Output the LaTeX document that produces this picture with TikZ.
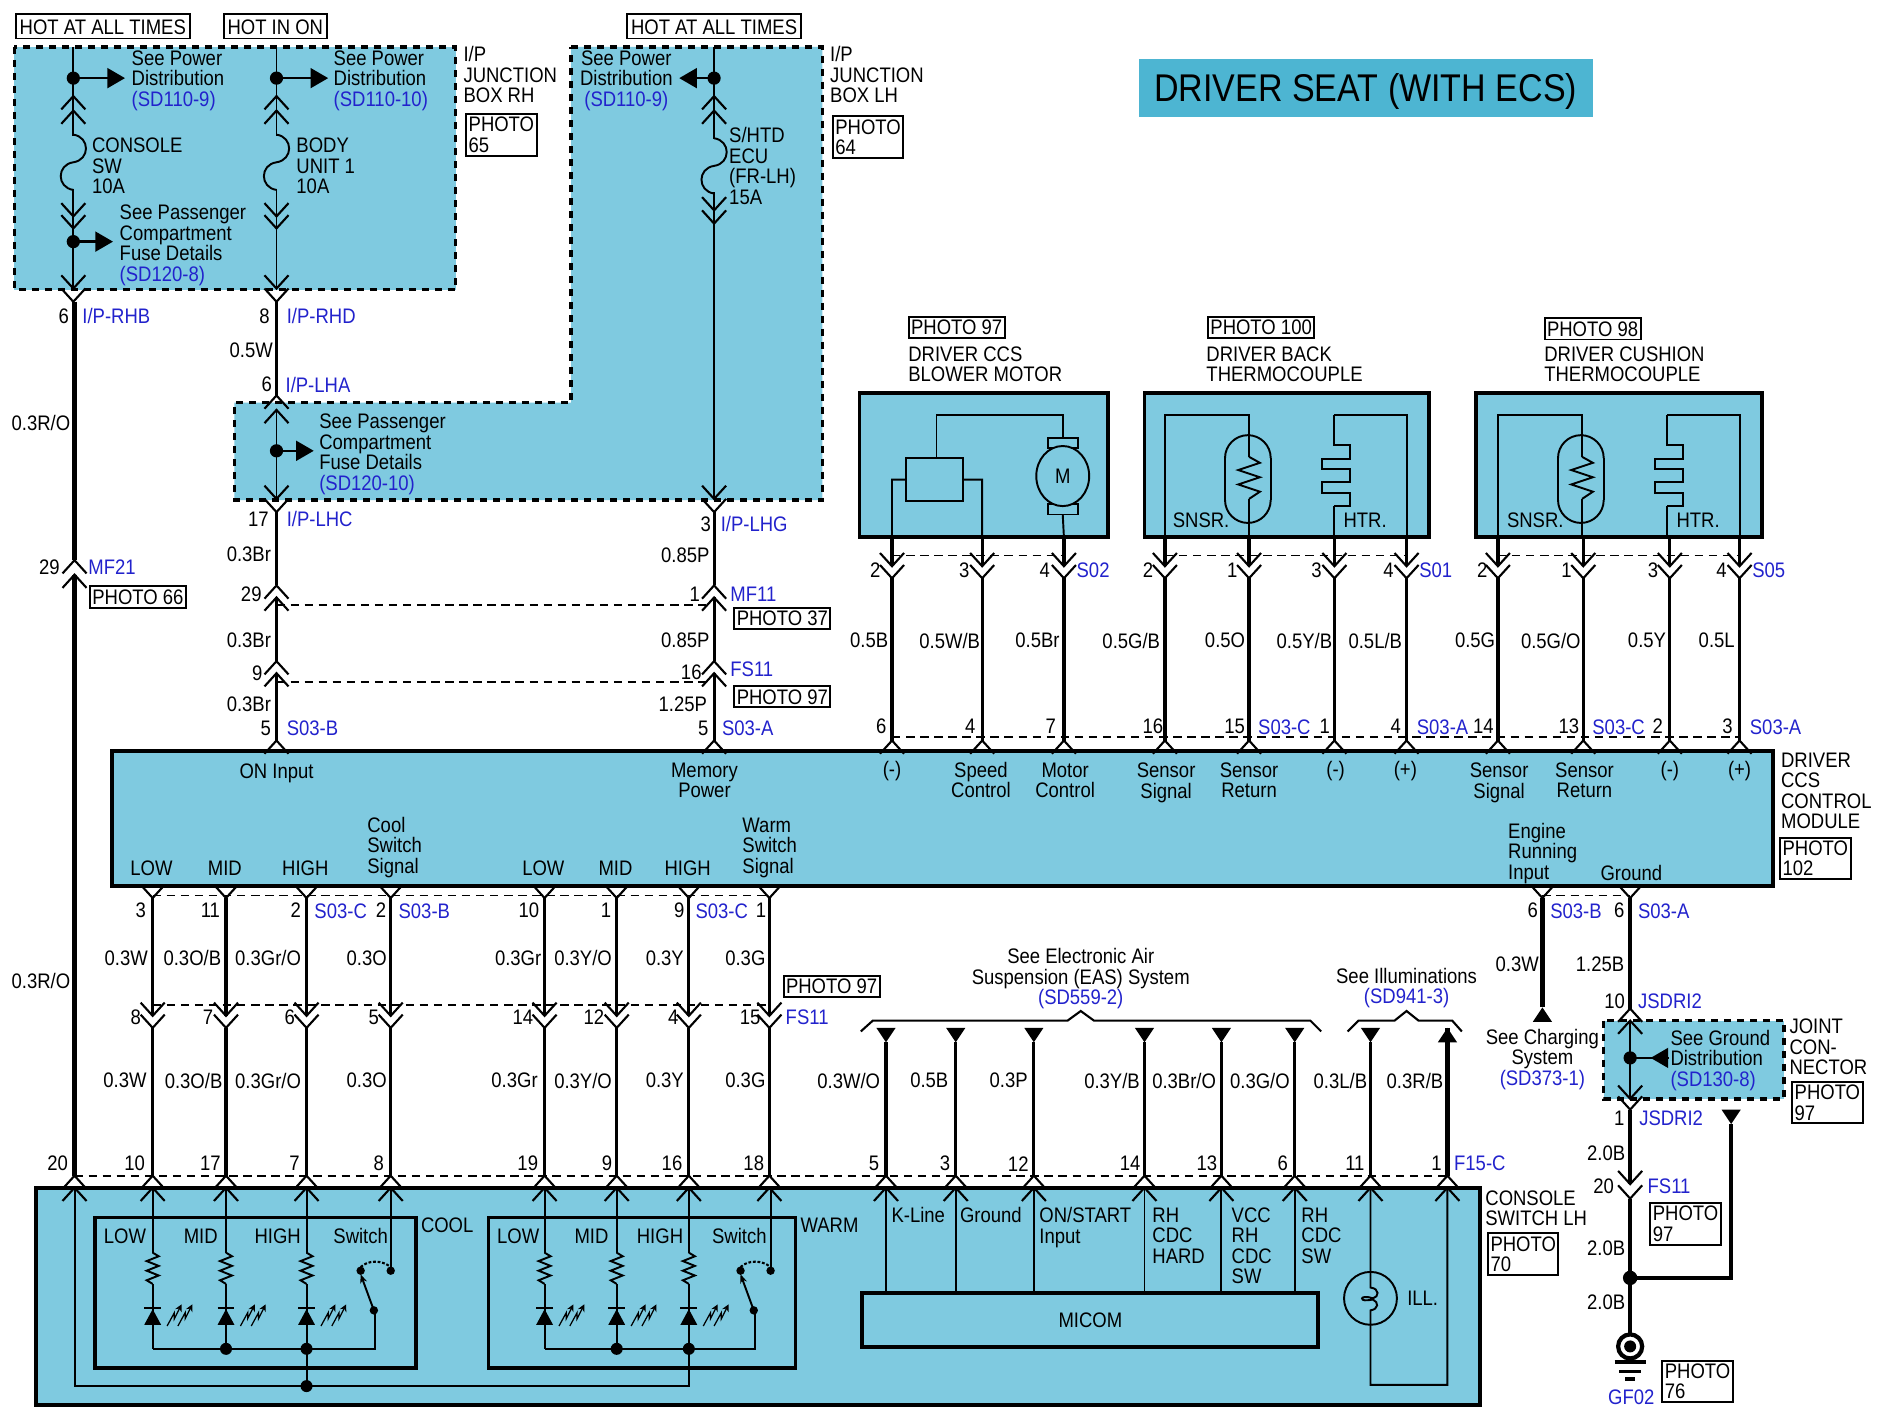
\documentclass[tikz,border=0pt]{standalone}
\usepackage{fontspec}
\setmainfont{Liberation Sans}[FakeStretch=0.88]
\usetikzlibrary{arrows.meta}
\definecolor{boxfill}{HTML}{7FCAE0}
\definecolor{titlefill}{HTML}{4DB5D2}
\definecolor{refblue}{HTML}{2222CC}
\tikzset{
  every node/.style={font=\fontsize{5.98}{5.83}\selectfont,inner sep=0pt},
  lftxt/.style={anchor=west,align=left},
  ctxt/.style={align=center},
  reflbl/.style={anchor=west,text=refblue},
  photobox/.style={draw,line width=.55pt,align=left,anchor=north west,inner xsep=.7pt,inner ysep=.9pt},
  chev/.style={line width=.6pt},
  wire/.style={line width=.9pt},
  fatwire/.style={line width=1.2pt},
  inwire/.style={line width=.55pt},
  module/.style={draw,line width=1.1pt,fill=boxfill},
  jbox/.style={draw,line width=1pt,fill=boxfill,dash pattern=on 2pt off 1.7pt},
  shortdash/.style={line width=.5pt,dash pattern=on 2.4pt off 1.6pt},
  feed/.style={line width=.7pt,-{Triangle[length=5pt,width=5.6pt]}},
  veedn/.pic={\draw[chev] (-10,-11)--(0,0)--(10,-11);},
  capup/.pic={\draw[chev] (-10,11)--(0,0)--(10,11);},
  tridn/.pic={\fill (-8,-12)--(8,-12)--(0,0)--cycle;},
  triup/.pic={\fill (-8,12)--(8,12)--(0,0)--cycle;},
  fuse/.pic={\draw[inwire] (0,-23) .. controls (14,-21) and (14,-2) .. (0,0) .. controls (-14,2) and (-14,21) .. (0,23);},
  resist/.pic={\draw[inwire] (0,-13)--(5,-10)--(-5,-6)--(5,-2)--(-5,2)--(5,6)--(-5,10)--(0,13);},
  led/.pic={
    \draw[line width=.8pt] (-7,-7)--(7,-7);
    \fill (0,-6)--(-7,7)--(7,7)--cycle;
    \draw[line width=.35pt,-{Stealth[length=2pt,width=2pt]}] (12,8)--(18,-3)--(18,2)--(24,-10);
    \draw[line width=.35pt,-{Stealth[length=2pt,width=2pt]}] (21,8)--(27,-3)--(27,2)--(33,-10);
  },
  swt/.pic={
    \fill (0,0) circle[radius=3.5];
    \fill (25,0) circle[radius=3.5];
    \fill (11,33) circle[radius=3.5];
    \draw[line width=.6pt,dash pattern=on .8pt off .5pt] (0,-3) .. controls (6,-9) and (18,-9) .. (25,-3);
    \draw[inwire,-{Stealth[length=2.5pt,width=2pt]}] (11,33)--(0,3);
  },
  htr/.pic={
    \draw[inwire] (0,0)--(0,25)--(13,25)--(13,37)--(-10,37)--(-10,45)--(13,45)--(13,56)--(-10,56)--(-10,65)--(13,65)--(13,76)--(0,76);
  },
}
\begin{document}
\begin{tikzpicture}[line cap=butt,line join=miter,>=stealth,x=0.012022cm,y=-0.012017cm]
\useasboundingbox (0,0) rectangle (1568,1170);

\node[draw=none,fill=titlefill,minimum width=4.54cm,minimum height=.58cm,text height=7.9pt,text depth=0pt,font=\fontsize{11}{13}\selectfont] (title) at (1136,73) {DRIVER SEAT (WITH ECS)};

\draw[jbox] (12,39) rectangle (379,241);
\draw[jbox] (475,39)--(684,39)--(684,416)--(195,416)--(195,335)--(475,335)--cycle;
\draw[jbox] (1334,849) rectangle (1484,914);
\draw[module] (93,625) rectangle (1475,737);
\draw[module] (30,988) rectangle (1231,1168.5);
\foreach \n/\xa/\xb in {bm/715/922,bk/952/1189,cu/1228/1466}
  \draw[module] (\xa,327) coordinate (\n a) rectangle (\xb,447) coordinate (\n b);

% supply side
\foreach \n/\x/\yb in {rhb/61/240,rhd/230/240}{
  \coordinate (\n top) at (\x,39);
  \coordinate (\n dot) at (\x,65);
  \coordinate (\n end) at (\x,\yb);
  \draw[inwire] (\n top)--(\n end);
  \fill (\n dot) circle[radius=5.5];
  \draw[feed] (\n dot)--++(43,0);
  \foreach \y in {80,92} \pic at (\x,\y) {capup};
  \foreach \y in {180,190,240,251} \pic at (\x,\y) {veedn};
  \fill[boxfill] (\x-2,113) rectangle (\x+2,157);
  \pic at (\x,135) {fuse};
}
\coordinate (rhbdot2) at (61,201);
\fill (rhbdot2) circle[radius=5.5];
\draw[feed] (rhbdot2)--++(33,0);

\coordinate (lhgtop) at (594,39);
\coordinate (lhgdot) at (594,65);
\coordinate (lhgend) at (594,415);
\draw[inwire] (lhgtop)--(lhgend);
\fill (lhgdot) circle[radius=5.5];
\draw[feed] (lhgdot)--++(-29,0);
\foreach \y in {80,92} \pic at (594,\y) {capup};
\foreach \y in {175,186,415,426} \pic at (594,\y) {veedn};
\fill[boxfill] (592,116) rectangle (596,160);
\pic at (594,138) {fuse};

\coordinate (lhaup) at (230,328);
\coordinate (lhalo) at (230,415);
\coordinate (lhadot) at (230,375);
\draw[inwire] (230,341)--(lhalo);
\fill (lhadot) circle[radius=5.5];
\draw[feed] (lhadot)--++(31,0);
\pic at (230,329) {capup};
\pic at (230,341) {capup};
\foreach \y in {415,426} \pic at (230,\y) {veedn};

\coordinate (rhbb) at (62,251);
\coordinate (rhbc) at (62,466);
\coordinate (rhbd) at (62,478);
\coordinate (rhbe) at (62,978);
\draw[fatwire] (rhbb)--(rhbc) (rhbd)--(rhbe);
\pic at (rhbc) {capup};
\pic at (rhbd) {capup};
\coordinate (rhda) at (230,251);
\coordinate (rhdb) at (230,329);
\draw[wire] (rhda)--(rhdb);
\foreach \x in {230,594}{
  \coordinate (w\x a) at (\x,426);
  \coordinate (w\x b) at (\x,487);
  \coordinate (w\x c) at (\x,497);
  \coordinate (w\x d) at (\x,550);
  \coordinate (w\x e) at (\x,560);
  \coordinate (w\x f) at (\x,616);
  \draw[wire] (w\x a)--(w\x b) (w\x c)--(w\x d) (w\x e)--(w\x f);
  \foreach \p in {b,c,d,e,f} \pic at (w\x\p) {capup};
}
\draw[shortdash] (w230c)++(0,6)--(587,503);
\draw[shortdash] (w230e)++(0,7)--(587,567);

% sensors above the module
\foreach \x in {742,817,885,969,1039,1110,1170,1246,1317,1389,1447}{
  \coordinate (c\x a) at (\x,447);
  \coordinate (c\x b) at (\x,471);
  \coordinate (c\x c) at (\x,481);
  \coordinate (c\x d) at (\x,616);
  \draw[wire] (c\x a)--(c\x b) (c\x c)--(c\x d);
  \pic at (c\x b) {veedn};
  \pic at (c\x c) {veedn};
  \pic at (c\x d) {capup};
}
\foreach \xa/\xb in {742/885,969/1170,1246/1447} \draw[shortdash] (\xa,462)--(\xb,462);
\draw[shortdash] (742,613)--(1447,613);

\draw[inwire] (754,381) rectangle (801,417);
\draw[inwire] (779,381)--(779,345)--(884,345)--(884,364);
\draw[inwire] (872,364) rectangle (897,373);
\draw[inwire] (872,419) rectangle (897,428);
\draw[inwire,fill=boxfill] (884,396) ellipse[x radius=22,y radius=25];
\node (motorm) at (884,396) {M};
\draw[inwire] (c742a)--(742,399)--(754,399) (801,399)--(817,399)--(c817a) (884,428)--(c885a);

\foreach \dx/\xr/\n in {0/1170/bk,277/1447/cu}{
  \begin{scope}[shift={(\dx,0)}]
    \draw[inwire] (969,447)--(969,345)--(1039,345)--(1039,380);
    \draw[inwire] (1039,415)--(1039,447);
    \draw[inwire] (1019,381) arc[start angle=180,end angle=360,radius=19];
    \draw[inwire] (1019,381)--(1019,416) (1057,381)--(1057,416);
    \draw[inwire] (1019,416) arc[start angle=180,end angle=0,radius=19];
    \draw[inwire] (1039,380)--(1048,385)--(1030,391)--(1048,397)--(1030,403)--(1048,409)--(1039,415);
    \pic at (1110,345) {htr};
    \draw[inwire] (1110,421)--(1110,447);
    \draw[inwire] (1110,345)--(1170,345)--(1170,447);
  \end{scope}
}
\node[lftxt] (snsra) at (975,433) {SNSR.};
\node[lftxt] (htra) at (1117,433) {HTR.};
\node[lftxt] (snsrb) at (1253,433) {SNSR.};
\node[lftxt] (htrb) at (1394,433) {HTR.};

\node[photobox] (ph97a) at (755,263) {PHOTO 97};
\node[photobox] (ph100) at (1004,263) {PHOTO 100};
\node[photobox] (ph98) at (1284,264) {PHOTO 98};
\node[lftxt] (blower) at (755,303) {DRIVER CCS\\BLOWER MOTOR};
\node[lftxt] (back) at (1003,303) {DRIVER BACK\\THERMOCOUPLE};
\node[lftxt] (cushion) at (1284,303) {DRIVER CUSHION\\THERMOCOUPLE};

% module to console switch
\foreach \x in {127,188,255,325,453,513,573,640}{
  \coordinate (m\x a) at (\x,747);
  \coordinate (m\x b) at (\x,845);
  \coordinate (m\x c) at (\x,855);
  \coordinate (m\x d) at (\x,978);
  \coordinate (m\x e) at (\x,988);
  \draw[wire] (m\x a)--(m\x b) (m\x c)--(m\x d);
  \pic at (m\x a) {veedn};
  \pic at (m\x b) {veedn};
  \pic at (m\x c) {veedn};
  \pic at (m\x d) {capup};
  \pic at (m\x e) {capup};
}
\draw[shortdash] (127,745)--(640,745);
\draw[shortdash] (127,836)--(640,836);
\draw[shortdash] (62,978)--(1204,978);
\pic at (62,978) {capup};
\pic at (62,988) {capup};

\foreach \x in {737,795,860,952,1016,1077,1140}{
  \coordinate (e\x a) at (\x,867);
  \coordinate (e\x b) at (\x,978);
  \coordinate (e\x c) at (\x,988);
  \draw[wire] (e\x a)--(e\x b);
  \pic at (e\x a) {tridn};
  \pic at (e\x b) {capup};
  \pic at (e\x c) {capup};
}
\coordinate (e1204a) at (1204,855);
\coordinate (e1204b) at (1204,978);
\coordinate (e1204c) at (1204,988);
\draw[fatwire] (e1204a)--(e1204b);
\pic at (e1204a) {triup};
\pic at (e1204b) {capup};
\pic at (e1204c) {capup};
\draw[line width=.6pt] (716,858)--(726,849)--(888,849)--(899,841)--(910,849)--(1090,849)--(1099,858);
\draw[line width=.6pt] (1121,858)--(1130,849)--(1160,849)--(1170,841)--(1180,849)--(1208,849)--(1216,858);

% console switch internals
\draw[line width=.9pt] (79,1013) rectangle (346,1138);
\draw[line width=.9pt] (406,1013) rectangle (662,1138);
\foreach \x in {127,188,255,453,513,573}{
  \draw[inwire] (\x,988)--(\x,1042);
  \pic at (\x,1055) {resist};
  \draw[inwire] (\x,1068)--(\x,1122);
  \pic at (\x,1095) {led};
}
\coordinate (coola) at (127,1122);
\coordinate (coolb) at (312,1122);
\coordinate (warma) at (453,1122);
\coordinate (warmb) at (628,1122);
\draw[inwire] (coola)--(coolb)--(312,1090);
\draw[inwire] (warma)--(warmb)--(628,1090);
\draw[inwire] (325,988)--(325,1057);
\draw[inwire] (641,988)--(641,1057);
\pic at (300,1057) {swt};
\pic at (616,1057) {swt};
\foreach \x in {188,255,513,573} \fill (\x,1122) circle[radius=5];
\coordinate (coma) at (62,1153);
\coordinate (comb) at (573,1153);
\draw[inwire] (62,988)--(coma)--(comb)--(573,1122);
\draw[inwire] (255,1122)--(255,1153);
\fill (255,1153) circle[radius=5];

\node[draw,line width=1.1pt,minimum width=4.56cm,minimum height=.54cm] (micom) at (907,1098) {MICOM};
\foreach \x in {737,795,860,952,1016,1077} \draw[inwire] (\x,988)--(\x,1075);
\draw[inwire] (1140,1080) circle[radius=22];
\draw[inwire] (1140,988)--(1140,1071) .. controls (1148,1072) and (1147,1079) .. (1142,1080) .. controls (1136,1078) and (1133,1079) .. (1133,1080) .. controls (1133,1082) and (1136,1082) .. (1142,1081) .. controls (1147,1083) and (1147,1089) .. (1140,1090)--(1140,1152)--(1204,1152)--(1204,988);
\node[lftxt] (ill) at (1170,1080) {ILL.};

% right hand side
\foreach \x/\ye in {1283/838,1356/839}{
  \coordinate (r\x a) at (\x,747);
  \coordinate (r\x b) at (\x,\ye);
  \draw[fatwire] (r\x a)--(r\x b);
  \pic at (r\x a) {veedn};
}
\pic at (1283,838) {triup};
\pic at (1356,839) {capup};
\pic at (1356,849) {capup};
\draw[shortdash] (1283,745)--(1356,745);
\coordinate (jsa) at (1356,849);
\coordinate (jsb) at (1356,914);
\coordinate (jsdot) at (1356,880);
\draw[inwire] (jsa)--(jsb);
\fill (jsdot) circle[radius=5.5];
\coordinate (jsfeed) at (1388,880);
\draw[inwire] (jsdot)--(jsfeed);
\draw[feed] (jsfeed)--(1373,880);
\pic at (1356,914) {veedn};
\pic at (1356,923) {veedn};
\coordinate (gda) at (1356,923);
\coordinate (gdb) at (1356,985);
\coordinate (gdc) at (1356,997);
\coordinate (gdd) at (1356,1063);
\coordinate (gde) at (1356,1110);
\draw[fatwire] (gda)--(gdb) (gdc)--(gdd)--(gde);
\pic at (gdb) {veedn};
\pic at (gdc) {veedn};
\fill (gdd) circle[radius=6];
\coordinate (gdf) at (1440,935);
\draw[fatwire] (gdd)--(1440,1063)--(gdf);
\pic at (gdf) {tridn};
\draw[line width=1.2pt] (1356,1120) circle[radius=10];
\fill (1356,1120) circle[radius=5];
\draw[line width=1pt] (1343,1133)--(1369,1133);
\draw[line width=1pt] (1347,1141)--(1365,1141);
\draw[line width=1pt] (1352,1147)--(1360,1147);

% labels
\foreach \n/\xa/\xb/\t in {hota/11/160/HOT AT ALL TIMES,hotb/185/273/HOT IN ON,hotc/520/668/HOT AT ALL TIMES}
  \node[draw,line width=.55pt,fill=white,minimum height=.22cm,text height=4.4pt,inner xsep=1.1pt,inner ysep=1.2pt] (\n) at ({(\xa+\xb)/2},22) {\t};

\node[lftxt] (powa) at (109,67) {See Power\\Distribution\\\textcolor{refblue}{(SD110-9)}};
\node[lftxt] (powb) at (277,67) {See Power\\Distribution\\\textcolor{refblue}{(SD110-10)}};
\node[ctxt] (powc) at (521,67) {See Power\\Distribution\\\textcolor{refblue}{(SD110-9)}};
\node[lftxt] (fusea) at (76,138) {CONSOLE\\SW\\10A};
\node[lftxt] (fuseb) at (246,138) {BODY\\UNIT 1\\10A};
\node[lftxt] (fusec) at (606,138) {S/HTD\\ECU\\(FR-LH)\\15A};
\node[lftxt] (pasa) at (99,204) {See Passenger\\Compartment\\Fuse Details\\\textcolor{refblue}{(SD120-8)}};
\node[lftxt] (pasb) at (265,378) {See Passenger\\Compartment\\Fuse Details\\\textcolor{refblue}{(SD120-10)}};
\node[lftxt] (jbrh) at (385,62) {I/P\\JUNCTION\\BOX RH};
\node[lftxt] (jblh) at (690,62) {I/P\\JUNCTION\\BOX LH};
\node[photobox] (ph65) at (387,94) {PHOTO\\65};
\node[photobox] (ph64) at (692,96) {PHOTO\\64};
\node[photobox] (ph66) at (74,487) {PHOTO 66};
\node[photobox] (ph37) at (610,505) {PHOTO 37};
\node[photobox] (ph97b) at (610,570) {PHOTO 97};
\node[photobox] (ph102) at (1480,696) {PHOTO\\102};
\node[photobox] (ph97c) at (651,811) {PHOTO 97};
\node[photobox] (ph70) at (1237,1025) {PHOTO\\70};
\node[photobox] (ph97d) at (1490,899) {PHOTO\\97};
\node[photobox] (ph97e) at (1372,1000) {PHOTO\\97};
\node[photobox] (ph76) at (1382,1131) {PHOTO\\76};

\foreach \n/\x/\y/\t in {a/53/263/6,b/220/263/8,c/222/320/6,d/215/432/17,e/587/436/3,f/209/494/29,g/578/494/1,h/214/560/9,i/575/559/16,j/221/606/5,k/585/606/5,l/41/472/29}
  \node (pin\n) at (\x,\y) {\t};
\foreach \n/\x/\y/\t in {a/68/263/{I/P-RHB},b/238/263/{I/P-RHD},c/237/320/{I/P-LHA},d/238/432/{I/P-LHC},e/599/436/{I/P-LHG},f/73/472/MF21,g/607/494/MF11,h/607/557/FS11,i/238/606/S03-B,j/600/606/S03-A}
  \node[reflbl] (ref\n) at (\x,\y) {\t};
\foreach \n/\x/\y/\t in {a/34/352/{0.3R/O},b/34/816/{0.3R/O}}
  \node (wl\n) at (\x,\y) {\t};
\node (wlc) at (209,291) {0.5W};
\foreach \n/\x/\y/\t in {d/207/461/0.3Br,e/207/533/0.3Br,f/207/586/0.3Br,g/570/462/0.85P,h/570/533/0.85P,i/568/586/1.25P}
  \node (wl\n) at (\x,\y) {\t};

\foreach \x/\t in {723/0.5B,790/{0.5W/B},863/0.5Br,941/{0.5G/B},1019/0.5O,1085/{0.5Y/B},1144/{0.5L/B},1227/0.5G,1290/{0.5G/O},1370/0.5Y,1428/0.5L}
  \node (sw\x) at (\x,533) {\t};
\foreach \x/\t in {728/2,802/3,869/4,955/2,1025/1,1095/3,1155/4,1233/2,1303/1,1375/3,1432/4}
  \node (sp\x) at (\x,474) {\t};
\foreach \x/\t in {S02/895,S01/1180,S05/1457}
  \node[reflbl] (ref\x) at (\t,474) {\x};
\foreach \x/\t in {733/6,807/4,874/7,959/16,1027/15,1102/1,1161/4,1234/14,1305/13,1379/2,1437/3}
  \node (up\x) at (\x,604) {\t};
\foreach \x/\t in {1046/S03-C,1178/S03-A,1324/S03-C,1455/S03-A}
  \node[reflbl] (upr\x) at (\x,605) {\t};

% module text
\foreach \x/\t in {742/(-),1111/(-),1169/(+),1389/(-),1447/(+)}
  \node (pol\x) at (\x,641) {\t};
\node (oninp) at (230,643) {ON Input};
\node[ctxt] (mempw) at (586,649) {Memory\\Power};
\node[ctxt] (spdc) at (816,649) {Speed\\Control};
\node[ctxt] (motc) at (886,649) {Motor\\Control};
\node[ctxt] (sensa) at (970,651) {Sensor\\Signal};
\node[ctxt] (sensb) at (1039,649) {Sensor\\Return};
\node[ctxt] (sensc) at (1247,651) {Sensor\\Signal};
\node[ctxt] (sensd) at (1318,649) {Sensor\\Return};
\foreach \x/\t in {126/LOW,187/MID,254/HIGH,452/LOW,512/MID,572/HIGH}
  \node (lv\x) at (\x,722) {\t};
\node (gndpin) at (1357,726) {Ground};
\node[lftxt] (coolsw) at (305,705) {Cool\\Switch\\Signal};
\node[lftxt] (warmsw) at (617,705) {Warm\\Switch\\Signal};
\node[lftxt] (engrun) at (1254,710) {Engine\\Running\\Input};
\node[lftxt] (ccsmod) at (1481,658) {DRIVER\\CCS\\CONTROL\\MODULE};

\foreach \x/\t in {117/3,175/11,246/2,317/2,440/10,504/1,565/9,633/1,1275/6,1347/6}
  \node (mp\x) at (\x,757) {\t};
\foreach \x/\t in {261/S03-C,331/S03-B,578/S03-C,1289/S03-B,1362/S03-A}
  \node[reflbl] (mr\x) at (\x,758) {\t};
\foreach \x/\t in {105/0.3W,160/{0.3O/B},223/{0.3Gr/O},305/0.3O,431/0.3Gr,485/{0.3Y/O},553/0.3Y,620/0.3G}
  \node (mw\x) at (\x,797) {\t};
\node (mw1262) at (1262,802) {0.3W};
\node (mw1331) at (1331,802) {1.25B};
\foreach \x/\t in {113/8,173/7,241/6,311/5,435/14,494/12,560/4,624/15}
  \node (fp\x) at (\x,846) {\t};
\node[reflbl] (fsa) at (653,846) {FS11};
\foreach \x/\t in {104/0.3W,161/{0.3O/B},223/{0.3Gr/O},305/0.3O,428/0.3Gr,485/{0.3Y/O},553/0.3Y,620/0.3G,706/{0.3W/O},773/0.5B,839/0.3P,925/{0.3Y/B},985/{0.3Br/O},1048/{0.3G/O},1115/{0.3L/B},1177/{0.3R/B}}
  \node (lw\x) at (\x,899) {\t};
\foreach \x/\t in {48/20,112/10,175/17,245/7,315/8,439/19,505/9,559/16,627/18,727/5,786/3,847/12,940/14,1004/13,1067/6,1127/11,1195/1}
  \node (bp\x) at (\x,968) {\t};
\node[reflbl] (fca) at (1209,968) {F15-C};

\node[ctxt] (eas) at (899,814) {See Electronic Air\\Suspension (EAS) System\\\textcolor{refblue}{(SD559-2)}};
\node[ctxt] (illum) at (1170,822) {See Illuminations\\\textcolor{refblue}{(SD941-3)}};
\node[ctxt] (charge) at (1283,881) {See Charging\\System\\\textcolor{refblue}{(SD373-1)}};
\node[lftxt] (gnddist) at (1389,882) {See Ground\\Distribution\\\textcolor{refblue}{(SD130-8)}};
\node[lftxt] (joint) at (1488,871) {JOINT\\CON-\\NECTOR};
\node (pinja) at (1343,833) {10};
\node[reflbl] (jsra) at (1362,833) {JSDRI2};
\node (pinjb) at (1347,930) {1};
\node[reflbl] (jsrb) at (1363,930) {JSDRI2};
\node (wlja) at (1336,959) {2.0B};
\node (pinjc) at (1334,987) {20};
\node[reflbl] (fsb) at (1370,987) {FS11};
\node (wljb) at (1336,1038) {2.0B};
\node (wljc) at (1336,1083) {2.0B};
\node[text=refblue] (gf) at (1357,1162) {GF02};
\node[lftxt] (consw) at (1235,1005) {CONSOLE\\SWITCH LH};

\node (coollbl) at (372,1019) {COOL};
\node (warmlbl) at (690,1019) {WARM};
\foreach \x/\t in {104/LOW,167/MID,231/HIGH,300/Switch,431/LOW,492/MID,549/HIGH,615/Switch}
  \node (sw\x) at (\x,1028) {\t};
\node[lftxt] (kline) at (741,1011) {K-Line};
\node[lftxt] (grnd) at (798,1011) {Ground};
\node[lftxt,anchor=north west] (onst) at (864,1004) {ON/START\\Input};
\node[lftxt,anchor=north west] (cdca) at (958,1004) {RH\\CDC\\HARD};
\node[lftxt,anchor=north west] (cdcb) at (1024,1004) {VCC\\RH\\CDC\\SW};
\node[lftxt,anchor=north west] (cdcc) at (1082,1004) {RH\\CDC\\SW};
\end{tikzpicture}
\end{document}
